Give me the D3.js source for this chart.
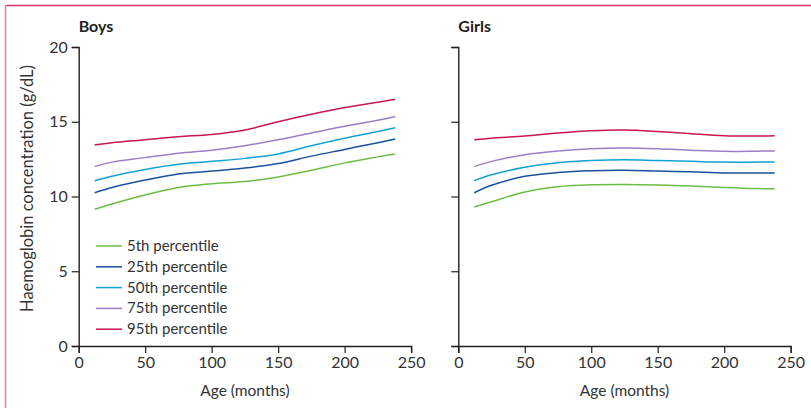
<!DOCTYPE html>
<html>
<head>
<meta charset="utf-8">
<script src="https://cdn.jsdelivr.net/npm/d3@7.9.0/dist/d3.min.js"></script>
<style>
  body { margin: 0; background: #fff; }
  svg { font-family: Lato, "Open Sans", sans-serif; }
</style>
</head>
<body>
<svg id="chart" width="811" height="408"></svg>
<script>
// Age in months at which the percentile curves are read
const ages = [12, 25, 50, 75, 100, 125, 150, 175, 200, 225, 238];

const percentiles = ["5th", "25th", "50th", "75th", "95th"];
const colors = ["#6cbd45", "#1b519c", "#12a2d2", "#9b7ec6", "#c8174c"];

// Boys haemoglobin (g/dL)
const boysP5  = [9.15, 9.5, 10.1, 10.6, 10.85, 11.0, 11.3, 11.75, 12.25, 12.65, 12.85];
const boysP25 = [10.25, 10.6, 11.1, 11.5, 11.7, 11.9, 12.2, 12.7, 13.15, 13.6, 13.85];
const boysP50 = [11.05, 11.35, 11.8, 12.15, 12.35, 12.55, 12.85, 13.4, 13.9, 14.35, 14.6];
const boysP75 = [12.0, 12.3, 12.6, 12.9, 13.1, 13.4, 13.8, 14.25, 14.7, 15.1, 15.35];
const boysP95 = [13.45, 13.6, 13.8, 14.0, 14.15, 14.45, 15.0, 15.5, 15.95, 16.3, 16.5];

// Girls haemoglobin (g/dL)
const girlsP5  = [9.3, 9.65, 10.3, 10.65, 10.78, 10.8, 10.77, 10.7, 10.6, 10.53, 10.52];
const girlsP25 = [10.25, 10.75, 11.35, 11.6, 11.72, 11.75, 11.7, 11.65, 11.58, 11.57, 11.57];
const girlsP50 = [11.05, 11.45, 11.95, 12.25, 12.4, 12.45, 12.4, 12.35, 12.3, 12.3, 12.3];
const girlsP75 = [12.0, 12.35, 12.8, 13.05, 13.2, 13.25, 13.2, 13.1, 13.02, 13.03, 13.05];
const girlsP95 = [13.8, 13.9, 14.05, 14.25, 14.4, 14.45, 14.35, 14.2, 14.07, 14.05, 14.07];

const xTicks = [0, 50, 100, 150, 200, 250];
const yTicks = [0, 5, 10, 15, 20];

const svg = d3.select("#chart");
const textColor = "#333";
const axisColor = "#231f20";

// Frame around the figure
svg.append("line")
    .attr("x1", 5.5).attr("x2", 811).attr("y1", 5.5).attr("y2", 5.5)
    .attr("stroke", "#d6336a").attr("stroke-width", 1.5);
svg.append("line")
    .attr("x1", 5.5).attr("x2", 5.5).attr("y1", 5.5).attr("y2", 408)
    .attr("stroke", "#e27f9e").attr("stroke-width", 1.5);

const panels = [
    { title: "Boys", left: 78.7, series: [boysP5, boysP25, boysP50, boysP75, boysP95], labels: true, legend: true },
    { title: "Girls", left: 458.3, series: [girlsP5, girlsP25, girlsP50, girlsP75, girlsP95], labels: false, legend: false }
];

const plotTop = 47, plotBottom = 346, panelWidth = 332.4;

const y = d3.scaleLinear().domain([0, 20]).range([plotBottom, plotTop]);

panels.forEach(p => {
    const x = d3.scaleLinear().domain([0, 250]).range([p.left, p.left + panelWidth]);

    // X axis
    const gx = svg.append("g")
        .attr("transform", `translate(0,${plotBottom})`)
        .call(d3.axisBottom(x).tickValues(xTicks).tickSize(7).tickPadding(4));

    // Y axis
    const gy = svg.append("g")
        .attr("transform", `translate(${p.left},0)`)
        .call(d3.axisLeft(y).tickValues(yTicks).tickSize(7).tickPadding(4)
            .tickFormat(p.labels ? d3.format("d") : () => ""));

    [gx, gy].forEach(g => {
        g.select(".domain").attr("stroke", axisColor).attr("stroke-width", 1.4);
        g.selectAll(".tick line").attr("stroke", axisColor).attr("stroke-width", 1.2);
        g.selectAll(".tick text")
            .attr("fill", textColor)
            .style("font-size", "16px")
            .style("font-family", "Lato, 'Open Sans', sans-serif");
    });

    // Panel title
    svg.append("text")
        .attr("x", p.left)
        .attr("y", 32)
        .attr("fill", "#222")
        .style("font-size", "16px")
        .style("font-weight", "bold")
        .text(p.title);

    // X axis label
    svg.append("text")
        .attr("x", p.left + panelWidth / 2)
        .attr("y", 396)
        .attr("text-anchor", "middle")
        .attr("fill", textColor)
        .style("font-size", "15.5px")
        .text("Age (months)");

    // Percentile curves
    const line = d3.line()
        .x((d, i) => x(ages[i]))
        .y(d => y(d))
        .curve(d3.curveCatmullRom.alpha(0.5));

    p.series.forEach((s, k) => {
        svg.append("path")
            .datum(s)
            .attr("d", line)
            .attr("fill", "none")
            .attr("stroke", colors[k])
            .attr("stroke-width", 1.5);
    });

    // Legend
    if (p.legend) {
        const legend = svg.append("g").attr("transform", "translate(96,246)");
        percentiles.forEach((name, k) => {
            const row = legend.append("g").attr("transform", `translate(0,${k * 20.8})`);
            row.append("line")
                .attr("x1", 0).attr("x2", 26)
                .attr("stroke", colors[k])
                .attr("stroke-width", 1.5);
            row.append("text")
                .attr("x", 31)
                .attr("y", 5)
                .attr("fill", textColor)
                .style("font-size", "15px")
                .text(name + " percentile");
        });
    }
});

// Y axis label
svg.append("text")
    .attr("transform", `translate(33,${(plotTop + plotBottom) / 2 - 8}) rotate(-90)`)
    .attr("text-anchor", "middle")
    .attr("fill", textColor)
    .style("font-size", "16.5px")
    .text("Haemoglobin concentration (g/dL)");
</script>
</body>
</html>
